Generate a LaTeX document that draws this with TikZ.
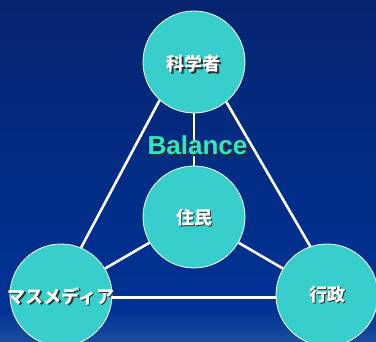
\documentclass[tikz,border=0pt]{standalone}
\usepackage{fontspec}
\setmainfont{Liberation Sans}
\newfontfamily\cjk{Noto Sans CJK JP}
\definecolor{bgtop}{HTML}{062570}
\definecolor{bgmid}{HTML}{003296}
\definecolor{bgbot}{HTML}{1A4C9E}
\definecolor{teal}{HTML}{38CECC}
\definecolor{baltxt}{HTML}{30E6C4}
\definecolor{shadow}{HTML}{303030}
\pgfdeclarelayer{back}
\pgfdeclarelayer{lines}
\pgfsetlayers{back,lines,main}
\newcommand{\shd}[1]{\makebox[0pt][l]{\hspace{1.6pt}\raisebox{-1.6pt}{\color{shadow}#1}}#1}
\begin{document}
\begin{tikzpicture}[x=1pt,y=-1pt,
  ball/.style={circle,fill=teal,draw=white,line width=0.8pt,minimum size=102pt,inner sep=0pt},
  lbl/.style={font=\cjk\bfseries\fontsize{18}{18}\selectfont,text=white,inner sep=0pt},
  link/.style={draw=white,line width=2.6pt}]
\begin{pgfonlayer}{back}
\fill[top color=bgtop,bottom color=bgmid] (0,0) rectangle (376,310);
\fill[top color=bgmid,bottom color=bgbot] (0,310) rectangle (376,342);
\end{pgfonlayer}
\useasboundingbox (0,0) rectangle (376,342);
\node[ball] (sci) at (194,62) {};
\node[ball] (mid) at (194,217) {};
\node[ball] (mas) at (61,295) {};
\node[ball] (gov) at (327,295) {};
\node[lbl] (sci-t) at ([yshift=-2.5pt]sci.center) {\shd{科学者}};
\node[lbl] (mid-t) at ([yshift=-1pt]mid.center) {\shd{住民}};
\node[lbl] (mas-t) at ([yshift=-2pt]mas.center) {\shd{マスメディア}};
\node[lbl] (gov-t) at (gov.center) {\shd{行政}};
\begin{pgfonlayer}{lines}
\path[link] (sci.228) -- (mas.67);
\path[link] (sci.309) -- (gov.109);
\path[link] (sci.south) -- (mid.north);
\path[link] (mid.210) -- (mas.31);
\path[link] (mid.330) -- (gov.149);
\path[link] (mas.-3) -- (gov.183);
\end{pgfonlayer}
\node[font=\bfseries\fontsize{26}{26}\selectfont,text=baltxt] (bal) at (197.5,146.5) {\shd{Balance}};
\end{tikzpicture}
\end{document}
